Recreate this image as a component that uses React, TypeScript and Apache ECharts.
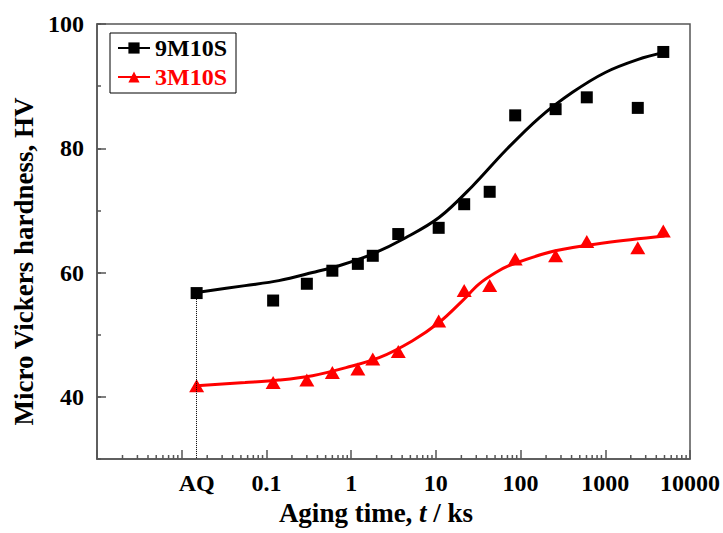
import React, { useEffect, useRef } from 'react';
import * as echarts from 'echarts';

// ---- data (aging time in ks, hardness HV) ----
const AQ_TIME = 0.015; // position used for the as-quenched state
const times = [AQ_TIME, 0.12, 0.3, 0.6, 1.2, 1.8, 3.6, 10.8, 21.6, 43.2, 86.4, 259.2, 604.8, 2419, 4838];
const hv9M10S = [56.7, 55.5, 58.2, 60.3, 61.4, 62.7, 66.2, 67.2, 71.0, 73.0, 85.3, 86.3, 88.2, 86.5, 95.5];
const hv3M10S = [41.8, 42.3, 42.7, 43.9, 44.5, 46.1, 47.3, 52.2, 57.1, 57.9, 62.2, 62.7, 65.0, 64.0, 66.7];

// fitted curves
const fit9Times = [AQ_TIME, 0.056, 0.14, 0.35, 0.8, 1.8, 4.4, 11, 27, 66, 166, 410, 1000, 2450, 4900];
const fit9Values = [56.8, 57.9, 58.7, 60.0, 61.3, 63.0, 65.6, 68.9, 73.9, 79.6, 84.9, 89.0, 92.2, 94.3, 95.4];
const fit3Times = [AQ_TIME, 0.056, 0.14, 0.35, 0.87, 2.14, 5.25, 11, 20.4, 32, 51, 79, 257, 1000, 5000];
const fit3Values = [41.8, 42.3, 42.7, 43.4, 44.7, 46.3, 49.0, 52.0, 55.4, 58.1, 60.0, 61.3, 63.5, 64.8, 65.9];

const xLabelValues = [0.1, 1, 10, 100, 1000, 10000];
const yLabelValues = [40, 60, 80, 100];
const minorDecades = [-3, -2, -1, 0, 1, 2, 3];
const minorMultipliers = [2, 3, 4, 5, 6, 7, 8, 9];

const FONT = '"Liberation Serif", "Times New Roman", serif';
const AXIS_COLOR = '#555';

export default function App() {
  const ref = useRef<HTMLDivElement>(null);

  useEffect(() => {
    document.body.style.margin = '0';
    const chart = echarts.init(ref.current!, null, { renderer: 'svg' });

    const zip = (xs: number[], ys: number[]) => xs.map((x, i) => [x, ys[i]]);
    const minorTicks: number[][] = [];
    minorDecades.forEach((d) =>
      minorMultipliers.forEach((m) => minorTicks.push([Number((m * Math.pow(10, d)).toPrecision(3)), 30]))
    );

    const textBase = { fontFamily: FONT, fontWeight: 'bold' as const, color: '#000' };

    chart.setOption({
      animation: false,
      grid: {
        left: 97,
        top: 24,
        right: 32,
        bottom: 74,
        show: true,
        borderColor: AXIS_COLOR,
        borderWidth: 1.5,
        backgroundColor: 'transparent',
      },
      legend: {
        orient: 'vertical',
        left: 110,
        top: 33,
        padding: [3, 9, 4, 7],
        itemGap: 5,
        itemWidth: 32,
        itemHeight: 14,
        borderColor: '#000',
        borderWidth: 1,
        textStyle: { ...textBase, fontSize: 24 },
        data: [
          { name: '9M10S', textStyle: { color: '#000' } },
          { name: '3M10S', textStyle: { color: '#ff0000' } },
        ],
      },
      xAxis: {
        type: 'log',
        logBase: 10,
        min: 0.001,
        max: 10000,
        splitNumber: 7,
        axisLine: { lineStyle: { color: AXIS_COLOR, width: 1.5 } },
        axisTick: { inside: true, length: 9, lineStyle: { color: AXIS_COLOR, width: 1.5 } },
        splitLine: { show: false },
        axisLabel: {
          ...textBase,
          fontSize: 24,
          margin: 12,
          formatter: (v: number) => {
            const r = Number(v.toPrecision(3));
            return xLabelValues.some((l) => Math.abs(l - r) / l < 1e-6) ? String(r) : '';
          },
        },
        name: '{a|Aging time, }{i|t}{a| / ks}',
        nameLocation: 'middle',
        nameGap: 39,
        nameTextStyle: {
          padding: [0, 35, 0, 0],
          rich: {
            a: { ...textBase, fontSize: 27 },
            i: { ...textBase, fontSize: 27, fontStyle: 'italic' },
          },
        },
      },
      yAxis: [
        {
          type: 'value',
          min: 30,
          max: 100,
          interval: 10,
          axisLine: { show: true, lineStyle: { color: AXIS_COLOR, width: 1.5 } },
          axisTick: { show: true, inside: true, length: 4, lineStyle: { color: AXIS_COLOR, width: 1.5 } },
          splitLine: { show: false },
          axisLabel: {
            ...textBase,
            fontSize: 24,
            margin: 13,
            formatter: (v: number) => (yLabelValues.includes(v) ? String(v) : ''),
          },
          name: 'Micro Vickers hardness, HV',
          nameLocation: 'middle',
          nameGap: 56,
          nameTextStyle: { ...textBase, fontSize: 27, padding: [0, 40, 0, 0] },
        },
        {
          type: 'value',
          min: 30,
          max: 100,
          interval: 10,
          position: 'left',
          axisLine: { show: false },
          axisLabel: { show: false },
          splitLine: { show: false },
          axisTick: {
            show: true,
            inside: true,
            length: 9,
            customValues: yLabelValues,
            lineStyle: { color: AXIS_COLOR, width: 1.5 },
          },
        },
      ],
      series: [
        {
          name: '9M10S',
          type: 'line',
          smooth: 0.35,
          showSymbol: false,
          symbol: 'rect',
          symbolSize: 12,
          lineStyle: { color: '#000', width: 3 },
          itemStyle: { color: '#000' },
          data: zip(fit9Times, fit9Values),
          z: 3,
        },
        {
          name: '3M10S',
          type: 'line',
          smooth: 0.35,
          showSymbol: false,
          symbol: 'triangle',
          symbolSize: 12,
          lineStyle: { color: '#ff0000', width: 3 },
          itemStyle: { color: '#ff0000' },
          data: zip(fit3Times, fit3Values),
          z: 3,
        },
        {
          name: '9M10S data',
          type: 'scatter',
          symbol: 'rect',
          symbolSize: 12,
          itemStyle: { color: '#000', opacity: 1 },
          data: zip(times, hv9M10S),
          z: 4,
          markLine: {
            silent: true,
            symbol: ['none', 'none'],
            label: { show: false },
            lineStyle: { type: 'dotted', color: '#000', width: 1 },
            data: [[{ coord: [AQ_TIME, hv9M10S[0]] }, { coord: [AQ_TIME, 30] }]],
          },
        },
        {
          name: '3M10S data',
          type: 'scatter',
          symbol: 'triangle',
          symbolSize: [15, 13],
          itemStyle: { color: '#ff0000', opacity: 1 },
          data: zip(times, hv3M10S),
          z: 4,
        },
        {
          name: 'minor ticks',
          type: 'custom',
          silent: true,
          clip: false,
          data: minorTicks,
          renderItem: (_p: any, api: any) => {
            const pt = api.coord([api.value(0), api.value(1)]);
            return {
              type: 'line',
              shape: { x1: pt[0], y1: pt[1], x2: pt[0], y2: pt[1] - 4 },
              style: { stroke: AXIS_COLOR, lineWidth: 1.5 },
            };
          },
          z: 1,
        },
        {
          name: 'AQ label',
          type: 'custom',
          silent: true,
          clip: false,
          data: [[AQ_TIME, 30]],
          renderItem: (_p: any, api: any) => {
            const pt = api.coord([api.value(0), api.value(1)]);
            return {
              type: 'text',
              x: pt[0],
              y: pt[1] + 12,
              style: {
                text: 'AQ',
                fill: '#000',
                font: `bold 24px ${FONT}`,
                align: 'center',
                verticalAlign: 'top',
              },
            };
          },
          z: 1,
        },
      ],
    });

    return () => chart.dispose();
  }, []);

  return <div ref={ref} style={{ width: 723, height: 533 }} />;
}
